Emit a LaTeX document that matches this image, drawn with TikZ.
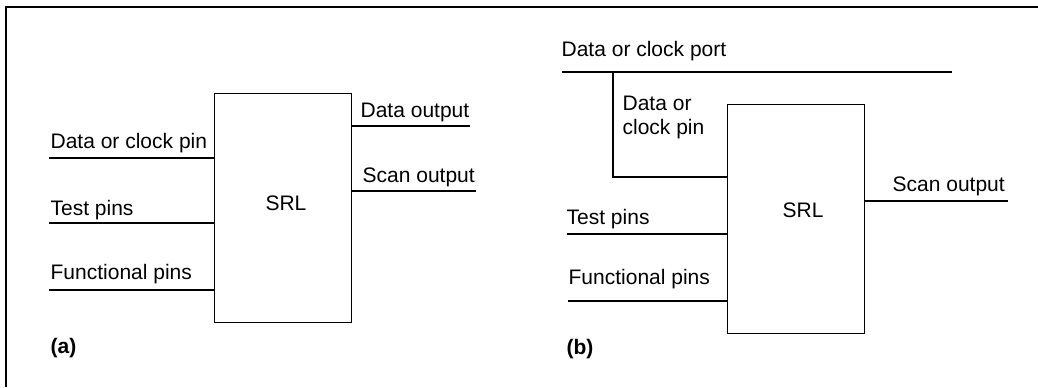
\documentclass[tikz,border=0pt]{standalone}
\usepackage{fontspec}
\setmainfont{Liberation Sans}

\begin{document}
\begin{tikzpicture}[x=0.5pt, y=-0.5pt, line width=0.65pt,
    font=\fontsize{10.5}{12}\selectfont,
    block/.style={draw, rectangle, inner sep=0pt, anchor=north west,
                  minimum width=68.5pt, minimum height=114.5pt},
    lbl/.style={inner sep=0pt, anchor=base west, align=left}]

    \useasboundingbox (0,0) rectangle (1038,387);
    \draw[line width=0.8pt] (6,387) -- (6,7) -- (1038,7);

    % (a) SRL with its own pins
    \node [block] (boxa) at (214,93) {};
    \node [inner sep=0pt, anchor=base] (srla) at (286,210) {SRL};

    \coordinate (a-dc) at (49,158);
    \coordinate (a-test) at (49,223);
    \coordinate (a-func) at (49,290);
    \coordinate (a-dout) at (470,126);
    \coordinate (a-sout) at (476,191);

    \node [lbl] (a-dclbl) at (50,148) {Data or clock pin};
    \node [lbl] (a-testlbl) at (50,215) {Test pins};
    \node [lbl] (a-funclbl) at (50,279) {Functional pins};
    \node [lbl] (a-doutlbl) at (360,117) {Data output};
    \node [lbl] (a-soutlbl) at (362,182) {Scan output};

    \draw (a-dc) -- (a-dc -| boxa.west);
    \draw (a-test) -- (a-test -| boxa.west);
    \draw (a-func) -- (a-func -| boxa.west);
    \draw (a-dout -| boxa.east) -- (a-dout);
    \draw (a-sout -| boxa.east) -- (a-sout);

    \node [lbl, font=\fontsize{10.5}{12}\selectfont\bfseries] (a-tag) at (50,353) {(a)};

    % (b) data/clock pin fed from a shared port
    \node [block] (boxb) at (727,104) {};
    \node [inner sep=0pt, anchor=base] (srlb) at (803,217) {SRL};

    \coordinate (b-portl) at (562,72);
    \coordinate (b-portr) at (952,72);
    \coordinate (b-tap) at (613,72);
    \coordinate (b-dc) at (613,177);
    \coordinate (b-test) at (567,234);
    \coordinate (b-func) at (568,301);
    \coordinate (b-sout) at (1008,201);

    \node [lbl] (b-portlbl) at (561,56) {Data or clock port};
    \node [lbl] (b-dclbl) at (622,134) {Data or\\clock pin};
    \node [lbl] (b-testlbl) at (566,224) {Test pins};
    \node [lbl] (b-funclbl) at (568,284) {Functional pins};
    \node [lbl] (b-soutlbl) at (892,191) {Scan output};

    \draw (b-portl) -- (b-portr);
    \draw (b-tap) -- (b-dc) -- (b-dc -| boxb.west);
    \draw (b-test) -- (b-test -| boxb.west);
    \draw (b-func) -- (b-func -| boxb.west);
    \draw (b-sout -| boxb.east) -- (b-sout);

    \node [lbl, font=\fontsize{10.5}{12}\selectfont\bfseries] (b-tag) at (566,354) {(b)};
\end{tikzpicture}
\end{document}
